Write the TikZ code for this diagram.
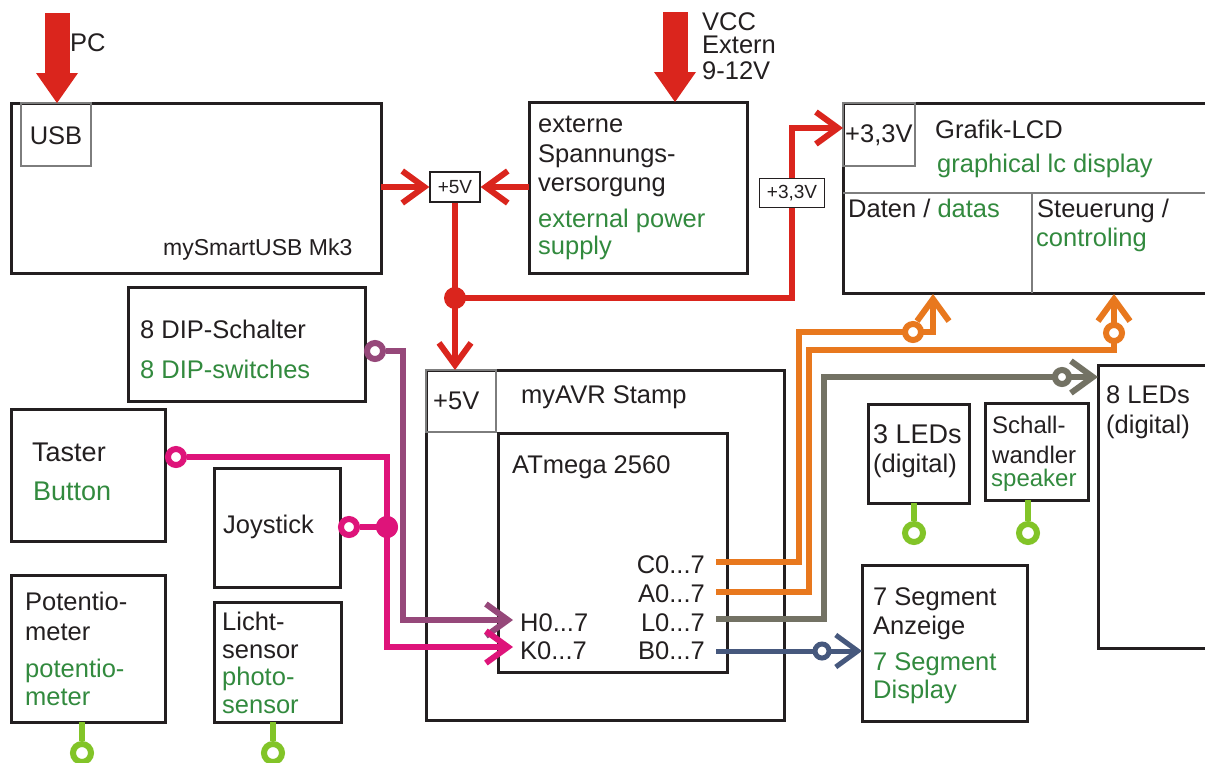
\documentclass[tikz,border=0pt]{standalone}
\usepackage{fontspec}
\setmainfont{Liberation Sans}
\usetikzlibrary{arrows.meta}
\definecolor{ink}{RGB}{35,31,32}
\definecolor{rd}{RGB}{218,37,29}
\definecolor{gtxt}{RGB}{50,138,62}
\definecolor{org}{RGB}{232,120,30}
\definecolor{gry}{RGB}{115,114,100}
\definecolor{blu}{RGB}{70,88,125}
\definecolor{pur}{RGB}{150,72,122}
\definecolor{pnk}{RGB}{222,20,122}
\definecolor{lgr}{RGB}{130,196,40}
\definecolor{thinc}{RGB}{125,125,125}
\begin{document}
\begin{tikzpicture}[x=1pt,y=-1pt,
 box/.style={draw=ink, line width=3pt, anchor=north west, inner sep=0pt, outer sep=0pt},
 subbox/.style={draw=thinc, line width=1.2pt, anchor=north west, inner sep=0pt, outer sep=0pt},
 vtag/.style={draw=ink, line width=1.3pt, fill=white, inner sep=0pt, minimum height=30pt, font=\fontsize{19}{22}\selectfont, text=ink},
 txt/.style={anchor=base west, inner sep=0pt, font=\fontsize{25.5}{30}\selectfont, text=ink},
 gtx/.style={txt, text=gtxt},
 bigtxt/.style={font=\fontsize{27}{32}\selectfont},
 wire/.style={line width=6pt},
 chev/.style={-{Straight Barb[length=22pt,width=32pt]}},
 bigarrow/.style={draw=rd, line width=25pt, -{Triangle[length=30pt,width=42pt,line width=0pt]}},
 ring/.style={circle, draw, line width=6pt, fill=white, minimum size=16pt, inner sep=0pt},
 gring/.style={ring, draw=lgr, minimum size=18pt},
 jdot/.style={circle, inner sep=0pt, minimum size=22pt},
]
\useasboundingbox (0,0) rectangle (1205,763);
\fill[white] (0,0) rectangle (1205,763);
\clip (0,0) rectangle (1205,763);

% ---------- boxes ----------
\node[box, minimum width=370pt, minimum height=170pt] (msb) at (11,103) {};
\node[subbox, minimum width=70pt, minimum height=63pt] (usbsub) at (21,103) {};
\node[box, minimum width=218pt, minimum height=171pt] (ext) at (529,102) {};
\node[box, minimum width=380pt, minimum height=190pt] (lcd) at (843,103) {};
\node[subbox, minimum width=72pt, minimum height=63pt] (lcdsub) at (843,103) {};
\node[box, minimum width=237pt, minimum height=114pt] (dip) at (128,287) {};
\node[box, minimum width=154pt, minimum height=132pt] (taster) at (11,409) {};
\node[box, minimum width=126pt, minimum height=119pt] (joy) at (214,468) {};
\node[box, minimum width=154pt, minimum height=147pt] (poti) at (11,575) {};
\node[box, minimum width=127pt, minimum height=120pt] (licht) at (214,602) {};
\node[box, minimum width=358pt, minimum height=350pt] (avr) at (426,370) {};
\node[subbox, minimum width=70pt, minimum height=62pt] (avrsub) at (426,370) {};
\node[box, minimum width=229pt, minimum height=239pt] (atm) at (498,433) {};
\node[box, minimum width=101pt, minimum height=99pt] (led3) at (868,404) {};
\node[box, minimum width=103pt, minimum height=97pt] (schall) at (985,403) {};
\node[box, minimum width=165pt, minimum height=156pt] (seg7) at (862,565) {};
\node[box, minimum width=125pt, minimum height=283pt] (led8) at (1098,365) {};

% LCD dividers
\coordinate (dl) at (843,193); \coordinate (dr) at (1220,193);
\coordinate (dv1) at (1032,193); \coordinate (dv2) at (1032,293);
\draw[thinc, line width=1.6pt] (dl) -- (dr) (dv1) -- (dv2);

% ---------- big input arrows ----------
\coordinate (pctop) at (57,13);
\draw[bigarrow] (pctop) -- (usbsub.north -| pctop);
\coordinate (vtop) at (675,12);
\draw[bigarrow] (vtop) -- (ext.north -| vtop);

% ---------- power ----------
\node[vtag, minimum width=50pt] (p5) at (455,187) {+5V};
\node[vtag, minimum width=65pt, minimum height=29pt] (p33) at (792,193) {+3,3V};
\node[jdot, fill=rd] (j5) at (455,298) {};
\coordinate (lcdin) at (843,128);
\draw[wire, draw=rd, chev] (msb.east |- p5.west) -- (p5.west);
\draw[wire, draw=rd, chev] (ext.west |- p5.east) -- (p5.east);
\draw[wire, draw=rd, chev] (p5.south) -- (avr.north -| p5.south);
\draw[wire, draw=rd] (j5.center) -| (p33.south);
\draw[wire, draw=rd, chev] (p33.north) |- (lcdin);

% ---------- port coordinates ----------
\coordinate (pC) at (716,562);
\coordinate (pA) at (716,592);
\coordinate (pL) at (716,619);
\coordinate (pB) at (716,651);
\coordinate (pH) at (513,620);
\coordinate (pK) at (513,647);

% orange C -> LCD data
\coordinate (oc1) at (799,562); \coordinate (oc2) at (799,332);
\coordinate (oc3) at (933,332); \coordinate (lcdD) at (933,294);
\draw[wire, draw=org, chev] (pC) -- (oc1) -- (oc2) -- (oc3) -- (lcdD);
\node[ring, draw=org] (rC) at (913,332) {};
% orange A -> LCD control
\coordinate (oa1) at (809,592); \coordinate (oa2) at (809,350);
\coordinate (oa3) at (1114,350); \coordinate (lcdC) at (1114,294);
\draw[wire, draw=org, chev] (pA) -- (oa1) -- (oa2) -- (oa3) -- (lcdC);
\node[ring, draw=org] (rA) at (1114,333) {};
% grey L -> 8 LEDs
\coordinate (gl1) at (824,619); \coordinate (gl2) at (824,377);
\draw[wire, draw=gry, chev] (pL) -- (gl1) -- (gl2) -- (led8.west |- gl2);
\node[ring, draw=gry, minimum size=14pt] (rL) at (1062,377) {};
% blue B -> 7 segment
\draw[wire, line width=5pt, draw=blu, chev] (pB) -- (seg7.west |- pB);
\node[ring, draw=blu, line width=5pt, minimum size=14pt] (rB) at (822,651) {};

% purple DIP -> H
\node[ring, draw=pur] (rdip) at (375,351) {};
\coordinate (pu1) at (403,351); \coordinate (pu2) at (403,620);
\draw[wire, draw=pur, chev] (rdip) -- (pu1) -- (pu2) -- (pH);
% pink Taster/Joystick -> K
\node[ring, draw=pnk] (rtast) at (176,457) {};
\coordinate (pk1) at (387,457); \coordinate (pk2) at (387,647);
\draw[wire, draw=pnk, chev] (rtast) -- (pk1) -- (pk2) -- (pK);
\node[ring, draw=pnk] (rjoy) at (349,527) {};
\node[jdot, fill=pnk] (jk) at (387,527) {};
\draw[wire, draw=pnk] (rjoy) -- (jk.center);
\node[jdot, fill=pnk] (jk2) at (jk) {};

% green analog pins
\node[gring] (gpoti) at (82,753) {};
\draw[wire, draw=lgr] (gpoti |- poti.south) -- (gpoti);
\node[gring] (glicht) at (273,753) {};
\draw[wire, draw=lgr] (glicht |- licht.south) -- (glicht);
\node[gring] (gled3) at (914,533) {};
\draw[wire, draw=lgr] (gled3 |- led3.south) -- (gled3);
\node[gring] (gschall) at (1028,533) {};
\draw[wire, draw=lgr] (gschall |- schall.south) -- (gschall);

% ---------- texts ----------
\node[txt] (tpc) at (70,51) {PC};
\node[txt, anchor=base] (tusb) at (56,144) {USB};
\node[txt, font=\fontsize{23}{28}\selectfont] (tmsb) at (163,255) {mySmartUSB Mk3};
\node[txt] (tv1) at (702,30) {VCC};
\node[txt] (tv2) at (702,53) {Extern};
\node[txt] (tv3) at (702,79) {9-12V};
\node[txt] (te1) at (538,132) {externe};
\node[txt] (te2) at (538,162) {Spannungs-};
\node[txt] (te3) at (538,191) {versorgung};
\node[gtx] (te4) at (538,227) {external power};
\node[gtx] (te5) at (538,254) {supply};
\node[txt] (tl0) at (845,142) {+3,3V};
\node[txt] (tl1) at (935,138) {Grafik-LCD};
\node[gtx] (tl2) at (937,172) {graphical lc display};
\node[txt] (tl3) at (848,217) {Daten / \textcolor{gtxt}{datas}};
\node[txt] (tl4) at (1037,217) {Steuerung /};
\node[gtx] (tl5) at (1036,246) {controling};
\node[txt] (td1) at (140,338) {8 DIP-Schalter};
\node[gtx] (td2) at (140,378) {8 DIP-switches};
\node[txt, bigtxt] (tt1) at (32,461) {Taster};
\node[gtx, bigtxt] (tt2) at (33,500) {Button};
\node[txt] (tj) at (223,533) {Joystick};
\node[txt] (tp1) at (25,610) {Potentio-};
\node[txt] (tp2) at (25,640) {meter};
\node[gtx] (tp3) at (25,677) {potentio-};
\node[gtx] (tp4) at (25,705) {meter};
\node[txt] (ts1) at (222,630) {Licht-};
\node[txt] (ts2) at (222,658) {sensor};
\node[gtx] (ts3) at (222,685) {photo-};
\node[gtx] (ts4) at (222,713) {sensor};
\node[txt] (ta0) at (433,409) {+5V};
\node[txt] (ta1) at (521,403) {myAVR Stamp};
\node[txt] (ta2) at (512,473) {ATmega 2560};
\node[txt, anchor=base east] (tC) at (705,573) {C0...7};
\node[txt, anchor=base east] (tA) at (705,602) {A0...7};
\node[txt, anchor=base east] (tL) at (705,631) {L0...7};
\node[txt, anchor=base east] (tB) at (705,659) {B0...7};
\node[txt] (tH) at (520,631) {H0...7};
\node[txt] (tK) at (520,659) {K0...7};
\node[txt, bigtxt] (t31) at (873,443) {3 LEDs};
\node[txt] (t32) at (873,472) {(digital)};
\node[txt, font=\fontsize{24}{28}\selectfont] (tw1) at (992,433) {Schall-};
\node[txt, font=\fontsize{24}{28}\selectfont] (tw2) at (992,463) {wandler};
\node[gtx, font=\fontsize{24}{28}\selectfont] (tw3) at (991,486) {speaker};
\node[txt] (t81) at (1106,403) {8 LEDs};
\node[txt] (t82) at (1106,433) {(digital)};
\node[txt] (tg1) at (873,605) {7 Segment};
\node[txt] (tg2) at (873,634) {Anzeige};
\node[gtx] (tg3) at (873,670) {7 Segment};
\node[gtx] (tg4) at (873,698) {Display};
\end{tikzpicture}
\end{document}
